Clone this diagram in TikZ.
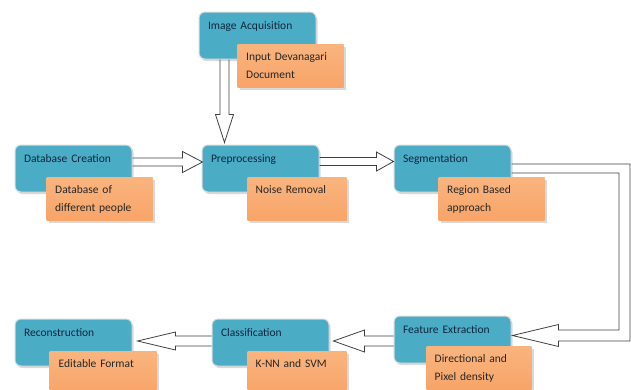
\documentclass[tikz,border=0pt]{standalone}
\usepackage{fontspec}
\setmainfont{Carlito}
\usetikzlibrary{positioning, calc, shadows}

\definecolor{stageblue}{HTML}{4BACC6}
\definecolor{stagetext}{HTML}{10263F}
\definecolor{notetop}{HTML}{F9B47E}
\definecolor{notemid}{HTML}{F58D3E}
\definecolor{notebot}{HTML}{F8A468}

% hollow block arrow: from, tip, shaft half width, head half width, head length
\newcommand{\hollowarrow}[5]{%
  \coordinate (ha) at (#1);
  \coordinate (ht) at (#2);
  \coordinate (hb) at ($(ht)!#5!(ha)$);
  \draw[hollow] ($(ha)!#3!90:(ht)$) -- ($(hb)!#3!-90:(ha)$) -- ($(hb)!#4!-90:(ha)$) -- (ht)
    -- ($(hb)!#4!90:(ha)$) -- ($(hb)!#3!90:(ha)$) -- ($(ha)!#3!-90:(ht)$);
}

\begin{document}
\begin{tikzpicture}[
    x=1pt, y=1pt,
    stage/.style={rectangle, rounded corners=6pt, fill=stageblue, draw=white!85!black, line width=1pt,
      minimum width=117pt, minimum height=47pt, text width=99pt, inner xsep=9pt, inner ysep=6pt,
      text height=11pt, text depth=24pt, align=left, text=stagetext, font=\fontsize{11.5}{18}\selectfont,
      drop shadow={shadow xshift=1.5pt, shadow yshift=-2pt, opacity=0.3}},
    note/.style={rectangle, top color=notetop, middle color=notemid, bottom color=notebot,
      minimum width=105pt, minimum height=43pt, text width=89pt, inner xsep=8pt, inner ysep=6pt,
      text height=10pt, text depth=21pt, align=left, text=black!85, font=\fontsize{11.5}{18}\selectfont,
      drop shadow={shadow xshift=2pt, shadow yshift=-2pt, opacity=0.3}},
    hollow/.style={draw=black!75, line width=0.8pt, line join=miter}
]
\useasboundingbox (0,0) rectangle (631,-389);
\clip (0,0) rectangle (631,-389);

% Stages
\node (db) [stage] at (73.5,-168.5) {Database Creation};
\node (pre) [stage, right=69pt of db] {Preprocessing};
\node (seg) [stage, right=74pt of pre] {Segmentation};
\node (acq) [stage, above=85pt of pre, xshift=-3pt] {Image Acquisition};
\node (feat) [stage, below=123pt of seg] {Feature Extraction};
\node (class) [stage, left=64pt of feat, yshift=-3pt] {Classification};
\node (recon) [stage, left=79pt of class] {Reconstruction};

% Notes
\node (acqnote) [note, minimum width=106pt, below right=-15pt and 39pt of acq.south west] {Input Devanagari\\Document};
\node (dbnote) [note, minimum width=106pt, below right=-15pt and 32pt of db.south west] {Database of\\different people};
\node (prenote) [note, minimum width=99pt, text width=83pt, below right=-15pt and 46pt of pre.south west] {Noise Removal};
\node (segnote) [note, minimum width=106pt, below right=-15pt and 45pt of seg.south west] {Region Based\\approach};
\node (featnote) [note, below right=-17pt and 33pt of feat.south west] {Directional and\\Pixel density};
\node (classnote) [note, minimum width=99pt, text width=83pt, below right=-15pt and 36pt of class.south west] {K-NN and SVM};
\node (reconnote) [note, minimum width=107pt, below right=-15pt and 35pt of recon.south west] {Editable Format};

% Arrows
\hollowarrow{$(acq.south)+(-33,0)$}{$(pre.north)+(-36,2)$}{4.5pt}{9pt}{28pt}
\hollowarrow{$(db.east)+(0,6.5)$}{$(pre.west)+(1,6.5)$}{4pt}{10.5pt}{20pt}
\hollowarrow{$(pre.east)+(0,7)$}{$(seg.west)+(0,7)$}{4pt}{9.5pt}{17pt}
\hollowarrow{$(feat.west)+(0,-1.5)$}{$(class.east)+(4,1.5)$}{5pt}{11pt}{31pt}
\hollowarrow{$(class.west)+(0,1.5)$}{$(recon.east)+(5,1.5)$}{5pt}{9pt}{38pt}

\coordinate (bend) at ($(seg.east)+(113,0)$);
\coordinate (ftip) at ($(feat.east)+(1,4)$);
\draw[hollow] ($(seg.east)+(0,4.5)$) -- ($(bend)+(5.5,4.5)$) |- ($(ftip)+(46,-5.5)$) -- ++(0,-5.5) -- (ftip)
  -- ($(ftip)+(46,11)$) -- ++(0,-5.5) -| ($(bend)+(-5.5,-4.5)$) -- ($(seg.east)+(0,-4.5)$);

\end{tikzpicture}
\end{document}
